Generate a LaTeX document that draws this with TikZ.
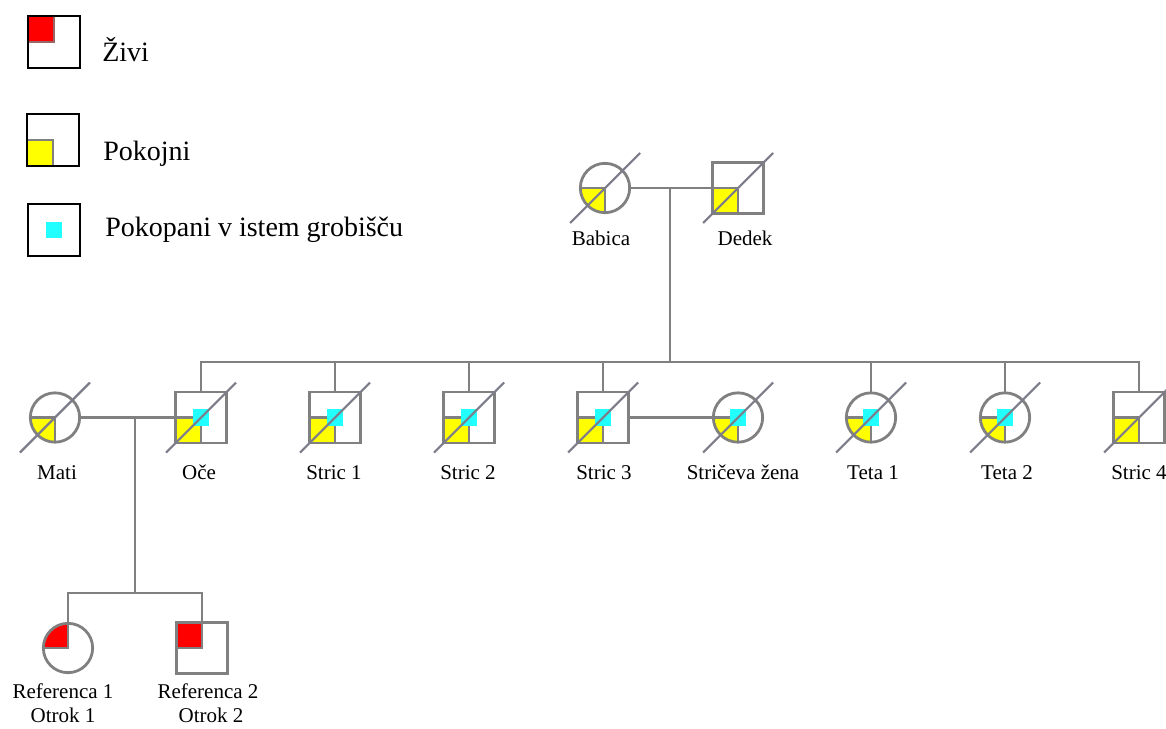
\documentclass[tikz,border=0pt]{standalone}
\usepackage{fontspec}
\setmainfont{Liberation Serif}
\definecolor{ln}{HTML}{808080}
\definecolor{sl}{HTML}{7C7C8A}
\definecolor{yel}{HTML}{FFFF00}
\definecolor{rd}{HTML}{FF0000}
\definecolor{cy}{HTML}{22FFFF}
\newcommand\yqfill{\filldraw[fill=yel,draw=ln,line width=2.1pt] (path picture bounding box.center) rectangle (path picture bounding box.south west);}
\newcommand\rqfill{\filldraw[fill=rd,draw=ln,line width=2.1pt] (path picture bounding box.center) rectangle (path picture bounding box.north west);}
\newcommand\cyfill{\fill[cy] ([shift={(-6pt,-6.3pt)}]path picture bounding box.center) rectangle ([shift={(6pt,6.3pt)}]path picture bounding box.center);}
\newcommand\lgred{\filldraw[fill=rd,draw=ln!80!red,line width=1.2pt] (path picture bounding box.center) rectangle (path picture bounding box.north west);}
\newcommand\lgyel{\filldraw[fill=yel,draw=ln,line width=1.2pt] (path picture bounding box.center) rectangle (path picture bounding box.south west);}
\begin{document}
\begin{tikzpicture}[x=0.75pt,y=-0.75pt,
  sym/.style={draw=ln, line width=2.1pt, inner sep=0pt, outer sep=0pt},
  sq/.style={sym, rectangle, minimum size=38.2pt},
  ci/.style={sym, circle, minimum size=37pt},
  yq/.style={path picture={\yqfill}},
  yqc/.style={path picture={\yqfill\cyfill}},
  rq/.style={path picture={\rqfill}},
  conn/.style={draw=ln, line width=2.1pt},
  slash/.style={draw=sl, line width=1.6pt},
  lbl/.style={font=\fontsize{15.75pt}{18pt}\selectfont, inner sep=0pt, anchor=base},
  legtxt/.style={font=\fontsize{21pt}{24pt}\selectfont, inner sep=0pt, anchor=base west},
  legbox/.style={draw=black, line width=2.2pt, rectangle, minimum size=39pt, inner sep=0pt, outer sep=0pt}
]
\fill[white] (0,0) rectangle (1166,728);
\useasboundingbox (0,0) rectangle (1166,728);

% legend
\node[legbox, path picture={\lgred}] (lg1) at (54,42) {};
\node[legbox, path picture={\lgyel}] (lg2) at (53,140) {};
\node[legbox, path picture={\cyfill}] (lg3) at (54,230) {};
\node[legtxt] (lt1) at (102,61) {Živi};
\node[legtxt] (lt2) at (103,160) {Pokojni};
\node[legtxt] (lt3) at (105,236) {Pokopani v istem grobišču};

% generation 1
\node[ci, yq] (babica) at (605,188) {};
\node[sq, yq] (dedek) at (738,188) {};

% generation 2
\node[ci, yq] (mati) at (55,417.5) {};
\node[sq, yqc] (oce) at (201,417.5) {};
\node[sq, yqc] (s1) at (335,417.5) {};
\node[sq, yqc] (s2) at (469,417.5) {};
\node[sq, yqc] (s3) at (603,417.5) {};
\node[ci, yqc] (zena) at (738,417.5) {};
\node[ci, yqc] (t1) at (871,417.5) {};
\node[ci, yqc] (t2) at (1005,417.5) {};
\node[sq, yq] (s4) at (1139,417.5) {};

% generation 3
\node[ci, rq] (ref1) at (68,648) {};
\node[sq, rq] (ref2) at (202,648) {};

% connectors
\coordinate (gp) at (670,188);
\coordinate (sib) at (670,362);
\draw[conn] (babica.east) -- (dedek.west);
\draw[conn] (gp) -- (sib);
\draw[conn] (oce.north) |- (sib) -| (s4.north);
\foreach \n in {s1,s2,s3,t1,t2}{\draw[conn] (\n.north) -- (\n.north |- sib);}
\draw[conn] (mati.east) -- (oce.west);
\draw[conn] (s3.east) -- (zena.west);
\coordinate (pm) at (135,417.5);
\coordinate (cb) at (135,593);
\draw[conn] (pm) -- (cb);
\draw[conn] (ref1.north) |- (cb) -| (ref2.north);

% slashes for deceased
\foreach \n in {babica,dedek,mati,oce,s1,s2,s3,zena,t1,t2,s4}{
  \draw[slash] ([shift={(-35,35)}]\n.center) -- ([shift={(35,-35)}]\n.center);
}

% labels
\node[lbl] (lbabica) at (601,245) {Babica};
\node[lbl] (ldedek) at (745,245) {Dedek};
\node[lbl] (lmati) at (57,479) {Mati};
\node[lbl] (loce) at (199,479) {Oče};
\node[lbl] (ls1) at (334,479) {Stric 1};
\node[lbl] (ls2) at (468,479) {Stric 2};
\node[lbl] (ls3) at (604,479) {Stric 3};
\node[lbl] (lzena) at (743,479) {Stričeva žena};
\node[lbl] (lt1l) at (873,479) {Teta 1};
\node[lbl] (lt2l) at (1007,479) {Teta 2};
\node[lbl] (ls4) at (1139,479) {Stric 4};
\node[lbl] (lr1a) at (63,698) {Referenca 1};
\node[lbl] (lr1b) at (63,722) {Otrok 1};
\node[lbl] (lr2a) at (208,698) {Referenca 2};
\node[lbl] (lr2b) at (211,722) {Otrok 2};
\end{tikzpicture}
\end{document}
